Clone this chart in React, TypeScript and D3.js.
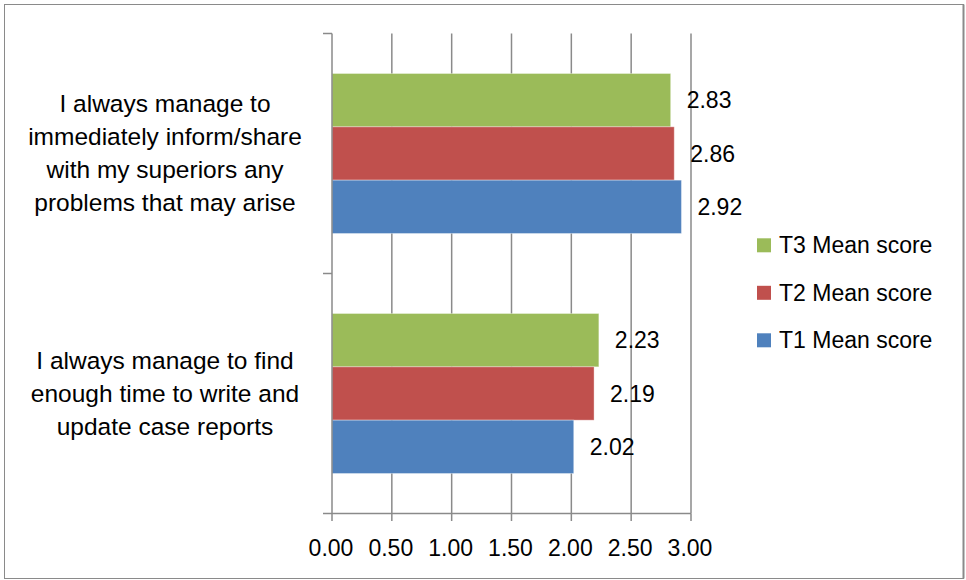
import React from "react";
import * as d3 from "d3";

const categories = [
  ["I always manage to", "immediately inform/share", "with my superiors any", "problems that may arise"],
  ["I always manage to find", "enough time to write and", "update case reports"],
];
const seriesNames = ["T3 Mean score", "T2 Mean score", "T1 Mean score"];
const seriesColors = ["#9BBB59", "#C0504D", "#4F81BD"];
const t3Values = [2.83, 2.23];
const t2Values = [2.86, 2.19];
const t1Values = [2.92, 2.02];
const xTicks = [0, 0.5, 1, 1.5, 2, 2.5, 3];

const W = 966;
const H = 580;
const FONT = "'Liberation Sans', Arial, sans-serif";

export default function App() {
  const values = [t3Values, t2Values, t1Values];
  const x = d3.scaleLinear().domain([0, 3]).range([332, 691]);
  const y = d3.scaleBand<number>().domain([0, 1]).range([33.5, 513.5]).paddingInner(0).paddingOuter(0);
  const inner = d3
    .scaleBand<number>()
    .domain([0, 1, 2])
    .range([0, y.bandwidth()])
    .paddingInner(0)
    .paddingOuter(0.75);
  const grid = "#8a8a8a";
  const fmt = d3.format(".2f");
  const legendY = d3.scaleLinear().domain([0, 2]).range([245.3, 340.3]);

  return (
    <svg
      width={W}
      height={H}
      style={{ position: "absolute", left: 0, top: 0, background: "#fff" }}
      fontFamily={FONT}
    >
      <rect x={4.5} y={4.5} width={959} height={574} fill="#fff" stroke="#8a8a8a" strokeWidth={1} />
      <line x1={963.5} x2={963.5} y1={4.5} y2={578.5} stroke="#8a8a8a" strokeWidth={2} />
      {/* gridlines */}
      {xTicks.slice(1).map((t) => (
        <line key={"g" + t} x1={x(t)} x2={x(t)} y1={33.5} y2={513.5} stroke={grid} strokeWidth={1.5} />
      ))}
      {/* bars */}
      {categories.map((_, ci) =>
        values.map((vals, si) => (
          <rect
            key={`b${ci}-${si}`}
            x={x(0)}
            y={(y(ci) as number) + (inner(si) as number)}
            width={x(vals[ci]) - x(0)}
            height={inner.bandwidth()}
            fill={seriesColors[si]}
            stroke="#ffffff"
            strokeOpacity={0.35}
            strokeWidth={1}
          />
        ))
      )}
      {/* axes */}
      <line x1={x(0)} x2={x(0)} y1={33.5} y2={513.5} stroke={grid} strokeWidth={1.5} />
      <line x1={323} x2={x(3)} y1={513.5} y2={513.5} stroke={grid} strokeWidth={1.5} />
      {[0, 1].map((ci) => (
        <line key={"yt" + ci} x1={323} x2={x(0)} y1={y(ci) as number} y2={y(ci) as number} stroke={grid} strokeWidth={1.5} />
      ))}
      {xTicks.map((t) => (
        <g key={"xt" + t}>
          <line x1={x(t)} x2={x(t)} y1={513.5} y2={521} stroke={grid} strokeWidth={1.5} />
          <text x={x(t) - 1} y={556} textAnchor="middle" fontSize={23} fill="#000">
            {fmt(t)}
          </text>
        </g>
      ))}
      {/* value labels */}
      {categories.map((_, ci) =>
        values.map((vals, si) => (
          <text
            key={`v${ci}-${si}`}
            x={x(vals[ci]) + 16}
            y={(y(ci) as number) + (inner(si) as number) + inner.bandwidth() / 2 + 8}
            fontSize={23}
            fill="#000"
          >
            {fmt(vals[ci])}
          </text>
        ))
      )}
      {/* category labels */}
      {categories.map((lines, ci) => {
        const cy = (y(ci) as number) + y.bandwidth() / 2;
        const lh = 33;
        const start = cy - ((lines.length - 1) * lh) / 2 + 8;
        return (
          <text key={"c" + ci} textAnchor="middle" fontSize={24.5} fill="#000">
            {lines.map((l, li) => (
              <tspan key={li} x={165} y={start + li * lh}>
                {l}
              </tspan>
            ))}
          </text>
        );
      })}
      {/* legend */}
      {seriesNames.map((n, i) => (
        <g key={"l" + i}>
          <rect x={757} y={legendY(i) - 7} width={14} height={14} fill={seriesColors[i]} />
          <text x={779} y={legendY(i) + 8} fontSize={23} fill="#000">
            {n}
          </text>
        </g>
      ))}
    </svg>
  );
}
